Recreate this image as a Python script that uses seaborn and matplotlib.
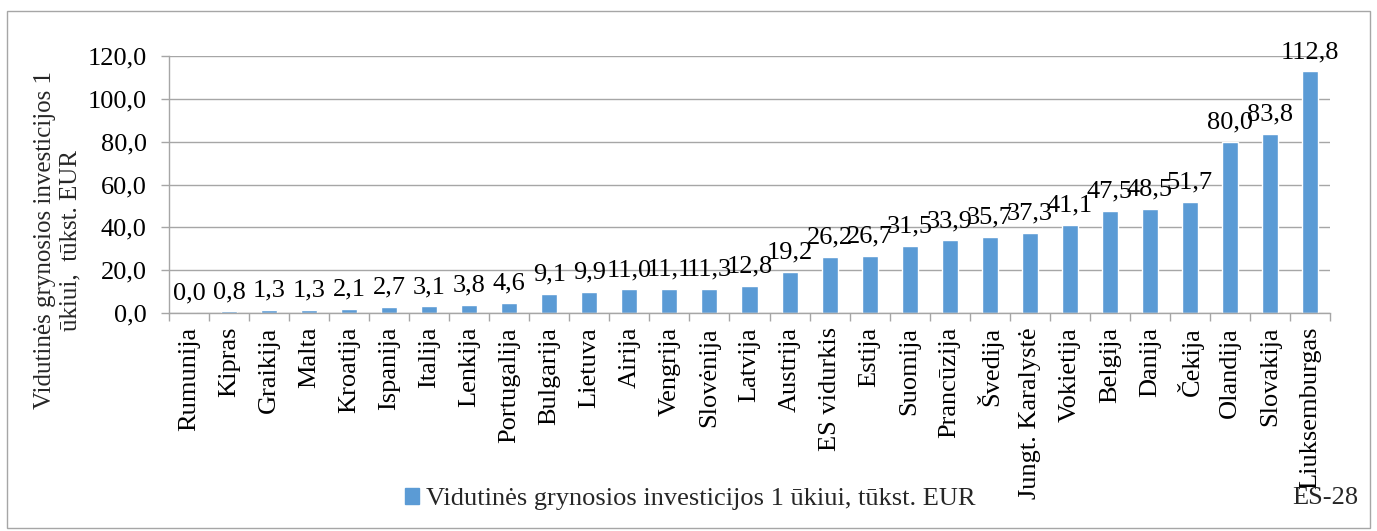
import matplotlib
matplotlib.use("Agg")
import matplotlib.pyplot as plt
import seaborn as sns
import pandas as pd
from matplotlib.patches import Rectangle, Patch
from matplotlib.ticker import FixedLocator

categories = ["Rumunija", "Kipras", "Graikija", "Malta", "Kroatija", "Ispanija", "Italija",
              "Lenkija", "Portugalija", "Bulgarija", "Lietuva", "Airija", "Vengrija",
              "Slovėnija", "Latvija", "Austrija", "ES vidurkis", "Estija", "Suomija",
              "Prancūzija", "Švedija", "Jungt. Karalystė", "Vokietija", "Belgija", "Danija",
              "Čekija", "Olandija", "Slovakija", "Liuksemburgas"]
values = [0.0, 0.8, 1.3, 1.3, 2.1, 2.7, 3.1, 3.8, 4.6, 9.1, 9.9, 11.0, 11.1, 11.3, 12.8,
          19.2, 26.2, 26.7, 31.5, 33.9, 35.7, 37.3, 41.1, 47.5, 48.5, 51.7, 80.0, 83.8, 112.8]
yticks = [0, 20, 40, 60, 80, 100, 120]
series_label = "Vidutinės grynosios investicijos 1 ūkiui, tūkst. EUR"
ylabel = "Vidutinės grynosios investicijos 1\nūkiui,  tūkst. EUR"
note = "ES-28"

sns.set_theme(style="white")
plt.rcParams["font.family"] = ["Liberation Serif", "DejaVu Serif"]

FS = 19
W, H = 1377, 531
fig = plt.figure(figsize=(W / 100, H / 100), dpi=100)
ax = fig.add_axes([169 / W, 1 - 313 / H, (1330 - 169) / W, (313 - 56) / H])

df = pd.DataFrame({"cat": categories, "val": values})
color = "#5B9BD5"
sns.barplot(data=df, x="cat", y="val", color=color, width=0.4, ax=ax, saturation=1)

ax.set_ylim(0, 120)
ax.set_xlim(-0.5, len(categories) - 0.5)
ax.set_yticks(yticks)
ax.set_yticklabels([f"{v:.1f}".replace(".", ",") for v in yticks], fontsize=FS)
ax.yaxis.grid(True, color="#A6A6A6", linewidth=1.0)
ax.set_axisbelow(True)
ax.tick_params(axis="y", which="major", length=6, width=1.0, color="#A6A6A6", pad=10, left=True)
ax.tick_params(axis="x", which="major", length=0, pad=10, labelsize=FS, labelrotation=90)
ax.xaxis.set_minor_locator(FixedLocator([i - 0.5 for i in range(len(categories) + 1)]))
ax.tick_params(axis="x", which="minor", length=6, width=1.0, color="#A6A6A6", bottom=True)
for s in ["top", "right"]:
    ax.spines[s].set_visible(False)
for s in ["left", "bottom"]:
    ax.spines[s].set_color("#A6A6A6")
    ax.spines[s].set_linewidth(1.0)
ax.set_xlabel("")
ax.set_ylabel("")
for lab in ax.get_xticklabels() + ax.get_yticklabels():
    lab.set_color("black")

for i, v in enumerate(values):
    ax.annotate(f"{v:.1f}".replace(".", ","), (i, v), xytext=(0, 6), textcoords="offset points",
                ha="center", va="bottom", fontsize=FS, color="black")

fig.text(58 / W, 1 - 240 / H, ylabel, rotation=90, ha="center", va="center",
         multialignment="center", fontsize=18, linespacing=1.2)

fig.legend(handles=[Patch(facecolor=color, edgecolor=color)], labels=[series_label],
           loc="center", bbox_to_anchor=(690 / W, 1 - 499 / H), frameon=False, fontsize=FS,
           handlelength=0.55, handleheight=0.55, handletextpad=0.25)

fig.text(1325 / W, 1 - 498 / H, note, ha="center", va="center", fontsize=FS)

fig.patches.append(Rectangle((7 / W, 3 / H), (1370 - 7) / W, (520 - 3) / H, transform=fig.transFigure,
                             fill=False, edgecolor="#A6A6A6", linewidth=1.0))

fig.savefig("out.png", dpi=100, facecolor="white")
